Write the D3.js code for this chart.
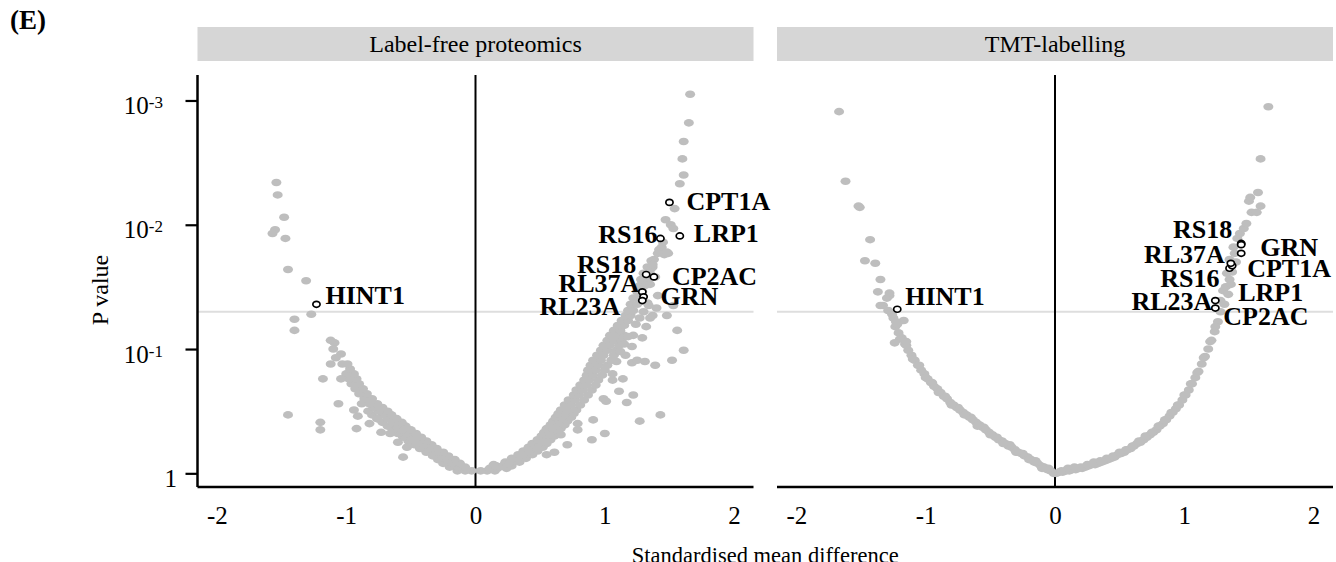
<!DOCTYPE html>
<html>
<head>
<meta charset="utf-8">
<script src="https://cdn.jsdelivr.net/npm/d3@7"></script>
<style>
  html, body { margin: 0; padding: 0; background: #fff; }
  svg { display: block; }
</style>
</head>
<body>
<svg id="chart" width="1336" height="562"></svg>
<script>
// Effect size (standardised mean difference) and -log10(P) per protein.
const labelFreePoints = [
  // negative branch
  [-0.03,0.02],[-0.08,0.02],[-0.14,0.02],[-0.08,0.05],[-0.14,0.05],[-0.20,0.05],[-0.12,0.08],[-0.18,0.08],
  [-0.25,0.08],[-0.16,0.11],[-0.22,0.11],[-0.29,0.11],[-0.21,0.14],[-0.27,0.14],[-0.33,0.14],[-0.25,0.17],
  [-0.31,0.17],[-0.38,0.17],[-0.30,0.20],[-0.36,0.20],[-0.43,0.20],[-0.34,0.23],[-0.40,0.23],[-0.47,0.23],
  [-0.38,0.26],[-0.45,0.26],[-0.52,0.26],[-0.42,0.29],[-0.49,0.29],[-0.56,0.29],[-0.46,0.32],[-0.53,0.32],
  [-0.60,0.32],[-0.50,0.35],[-0.57,0.35],[-0.64,0.35],[-0.54,0.38],[-0.61,0.38],[-0.68,0.38],[-0.57,0.41],
  [-0.64,0.41],[-0.72,0.41],[-0.61,0.44],[-0.68,0.44],[-0.76,0.44],[-0.65,0.47],[-0.72,0.47],[-0.80,0.47],
  [-0.68,0.50],[-0.75,0.50],[-0.83,0.50],[-0.72,0.53],[-0.79,0.53],[-0.76,0.56],[-0.82,0.56],[-0.88,0.56],
  [-0.80,0.60],[-0.86,0.60],[-0.84,0.64],[-0.90,0.64],[-0.87,0.68],[-0.93,0.68],[-0.90,0.72],[-0.96,0.72],
  [-0.92,0.76],[-0.98,0.76],[-0.94,0.80],[-1.00,0.80],[-0.97,0.84],[-0.99,0.88],[-1.03,0.88],
  [-0.92,0.36],[-0.91,0.46],[-0.94,0.51],[-0.82,0.40],[-0.73,0.33],[-0.66,0.32],[-0.60,0.25],[-0.56,0.13],
  [-0.53,0.21],[-0.76,0.44],[-1.04,0.76],[-1.04,0.96],[-1.06,0.56],[-1.08,0.93],[-1.09,1.05],[-1.10,1.00],
  [-1.12,1.07],[-1.12,0.88],[-1.18,0.76],[-1.20,0.41],[-1.20,0.35],[-1.45,0.47],[-1.27,1.28],[-1.40,1.24],
  [-1.40,1.15],[-1.31,1.55],[-1.45,1.64],[-1.47,1.89],[-1.55,1.96],[-1.57,1.93],[-1.48,2.06],[-1.53,2.24],
  [-1.54,2.34],
  // positive branch
  [0.04,0.02],[0.09,0.02],[0.15,0.02],[0.11,0.04],[0.17,0.04],[0.24,0.04],[0.16,0.06],[0.21,0.06],
  [0.28,0.06],[0.23,0.09],[0.28,0.09],[0.34,0.09],[0.28,0.12],[0.33,0.12],[0.39,0.12],[0.33,0.15],
  [0.38,0.15],[0.44,0.15],[0.37,0.18],[0.42,0.18],[0.48,0.18],[0.41,0.21],[0.46,0.21],[0.52,0.21],
  [0.44,0.24],[0.49,0.24],[0.55,0.24],[0.48,0.27],[0.53,0.27],[0.58,0.27],[0.51,0.30],[0.55,0.30],
  [0.61,0.30],[0.53,0.33],[0.58,0.33],[0.64,0.33],[0.55,0.36],[0.60,0.36],[0.66,0.36],[0.58,0.39],
  [0.62,0.39],[0.69,0.39],[0.60,0.42],[0.65,0.42],[0.71,0.42],[0.62,0.45],[0.67,0.45],[0.74,0.45],
  [0.64,0.48],[0.69,0.48],[0.76,0.48],[0.66,0.51],[0.71,0.51],[0.78,0.51],[0.69,0.55],[0.74,0.55],
  [0.81,0.55],[0.72,0.59],[0.77,0.59],[0.84,0.59],[0.76,0.63],[0.80,0.63],[0.87,0.63],[0.78,0.67],
  [0.83,0.67],[0.90,0.67],[0.81,0.71],[0.86,0.71],[0.93,0.71],[0.84,0.75],[0.88,0.75],[0.95,0.75],
  [0.86,0.79],[0.91,0.79],[0.98,0.79],[0.87,0.83],[0.93,0.83],[1.00,0.83],[0.89,0.87],[0.95,0.87],
  [1.02,0.87],[0.91,0.91],[0.97,0.91],[1.05,0.91],[0.94,0.95],[0.99,0.95],[1.07,0.95],[0.97,0.99],
  [1.02,0.99],[1.09,0.99],[0.99,1.03],[1.04,1.03],[1.11,1.03],[1.02,1.07],[1.07,1.07],[1.13,1.07],
  [1.04,1.11],[1.09,1.11],[1.15,1.11],[1.07,1.15],[1.12,1.15],[1.10,1.19],[1.15,1.19],[1.13,1.23],
  [1.18,1.23],[1.16,1.27],[1.20,1.27],[1.18,1.31],[1.22,1.31],[1.20,1.36],[1.25,1.36],[1.22,1.41],
  [1.27,1.41],[1.25,1.46],[1.29,1.46],[1.27,1.51],[1.31,1.51],[1.28,1.56],[1.33,1.56],[1.30,1.61],
  [1.35,1.61],[1.33,1.66],[1.37,1.66],[1.36,1.71],
  [0.14,0.07],[0.26,0.08],[0.48,0.20],[0.54,0.25],[0.55,0.15],[0.61,0.17],[0.71,0.23],[0.66,0.31],
  [0.79,0.40],[0.79,0.35],[0.90,0.27],[0.91,0.43],[1.00,0.32],[0.99,0.60],[1.01,0.58],[1.06,0.75],
  [1.06,0.80],[1.11,0.66],[1.14,0.76],[1.17,0.57],[1.22,0.63],[1.27,0.42],[1.43,0.47],[1.16,0.95],
  [1.21,0.89],[1.25,0.91],[1.31,0.90],[1.39,0.87],[1.52,0.91],[1.61,0.99],[1.56,1.15],[1.21,1.02],
  [1.22,1.11],[1.29,1.09],[1.35,1.25],[1.32,1.18],[1.37,1.27],[1.40,1.33],[1.33,1.37],[1.41,1.43],
  [1.53,1.35],[1.48,1.27],[1.15,1.04],[1.12,0.98],[1.09,0.90],[1.18,1.10],[1.24,1.20],[1.27,1.25],
  [1.30,1.30],[1.34,1.35],[1.28,1.40],[1.35,1.52],[1.39,1.58],[1.38,1.72],[1.36,1.65],
  [1.37,1.68],[1.46,1.76],[1.49,1.77],[1.42,1.80],[1.44,1.82],[1.48,1.78],[1.41,1.77],[1.45,1.86],
  [1.47,2.04],[1.51,2.00],[1.53,1.97],[1.54,2.13],[1.58,2.33],[1.61,2.40],[1.60,2.53],[1.61,2.67],
  [1.65,2.82],[1.66,3.05]
];

const tmtPoints = [
  // negative branch
  [-0.01,0.00],[-0.035,0.02],[-0.06,0.03],[-0.085,0.05],[-0.11,0.06],[-0.135,0.08],[-0.16,0.09],[-0.185,0.11],
  [-0.21,0.13],[-0.235,0.14],[-0.26,0.16],[-0.285,0.17],[-0.31,0.19],[-0.335,0.21],[-0.36,0.22],[-0.385,0.24],
  [-0.41,0.26],[-0.435,0.27],[-0.46,0.29],[-0.485,0.31],[-0.51,0.33],[-0.535,0.35],[-0.56,0.37],[-0.585,0.39],
  [-0.61,0.41],[-0.635,0.43],[-0.66,0.45],[-0.685,0.47],[-0.71,0.49],[-0.735,0.51],[-0.76,0.53],[-0.785,0.55],
  [-0.81,0.57],[-0.835,0.60],[-0.86,0.62],[-0.885,0.65],[-0.91,0.68],[-0.935,0.70],[-0.96,0.73],[-0.985,0.76],
  [-1.01,0.80],[-1.035,0.83],[-1.06,0.87],[-1.085,0.91],[-1.11,0.95],[-1.135,0.99],[-1.16,1.04],[-1.185,1.09],
  [-1.21,1.13],[-1.235,1.18],
  [-0.05,0.04],[-0.10,0.04],[-0.15,0.10],[-0.20,0.11],[-0.25,0.16],[-0.30,0.17],[-0.35,0.23],[-0.40,0.24],
  [-0.45,0.29],[-0.50,0.31],[-0.55,0.37],[-0.60,0.38],[-0.65,0.45],[-0.70,0.47],[-0.75,0.53],[-0.80,0.55],
  [-0.85,0.62],[-0.90,0.65],[-0.95,0.73],[-1.00,0.77],[-1.05,0.87],[-1.10,0.92],[-1.15,1.03],[-1.20,1.08],
  [-1.24,1.05],[-1.17,1.23],[-1.25,1.25],[-1.26,1.28],[-1.29,1.31],[-1.33,1.35],[-1.35,1.35],[-1.30,1.41],
  [-1.28,1.43],[-1.37,1.46],[-1.28,1.45],[-1.35,1.56],[-1.39,1.69],[-1.47,1.71],[-1.43,1.88],[-1.51,2.14],
  [-1.52,2.15],[-1.62,2.35],[-1.67,2.91],[-1.22,1.20],[-1.15,1.06],[-1.23,1.22],
  // positive branch
  [0.01,0.00],[0.035,0.01],[0.06,0.01],[0.085,0.02],[0.11,0.02],[0.135,0.03],[0.16,0.03],[0.185,0.04],
  [0.21,0.04],[0.235,0.05],[0.26,0.06],[0.285,0.07],[0.31,0.07],[0.335,0.08],[0.36,0.09],[0.385,0.10],
  [0.41,0.11],[0.435,0.12],[0.46,0.13],[0.485,0.15],[0.51,0.16],[0.535,0.17],[0.56,0.19],[0.585,0.20],
  [0.61,0.22],[0.635,0.24],[0.66,0.25],[0.685,0.27],[0.71,0.29],[0.735,0.31],[0.76,0.33],[0.785,0.35],
  [0.81,0.38],[0.835,0.40],[0.86,0.43],[0.885,0.46],[0.91,0.49],[0.935,0.52],[0.96,0.55],[0.985,0.59],
  [1.01,0.63],[1.035,0.67],[1.06,0.72],[1.085,0.77],[1.11,0.82],[1.135,0.88],[1.16,0.94],[1.185,1.00],
  [1.21,1.07],[1.235,1.14],[1.26,1.22],[1.28,1.30],
  [0.05,0.02],[0.10,0.04],[0.15,0.05],[0.20,0.05],[0.25,0.07],[0.30,0.09],[0.35,0.10],[0.40,0.12],
  [0.45,0.14],[0.50,0.17],[0.55,0.19],[0.60,0.22],[0.65,0.26],[0.70,0.30],[0.75,0.33],[0.80,0.38],
  [0.85,0.43],[0.90,0.49],[0.95,0.55],[1.00,0.63],[1.05,0.72],[1.10,0.81],[1.15,0.93],[1.20,1.06],
  [1.24,1.18],
  [1.28,1.39],[1.30,1.47],[1.31,1.36],[1.32,1.50],[1.34,1.44],[1.36,1.52],[1.35,1.56],[1.33,1.61],
  [1.37,1.62],[1.35,1.72],[1.40,1.70],[1.39,1.77],[1.38,1.82],[1.41,1.89],[1.43,1.93],[1.46,1.97],
  [1.48,2.01],[1.52,2.10],[1.56,2.10],[1.59,2.15],[1.50,2.19],[1.51,2.22],[1.57,2.26],[1.59,2.53],
  [1.65,2.95]
];

// Highlighted proteins and their values in each data set.
const highlightGenes = ["CPT1A","RS16","LRP1","RS18","CP2AC","RL37A","GRN","RL23A","HINT1"];
const labelFreeHighlightEffect = [1.50, 1.43, 1.58, 1.32, 1.38, 1.29, 1.30, 1.29, -1.23];
const labelFreeHighlightNegLogP = [2.18, 1.89, 1.91, 1.60, 1.58, 1.46, 1.42, 1.39, 1.36];
const tmtHighlightEffect = [1.44, 1.35, 1.37, 1.44, 1.24, 1.36, 1.44, 1.24, -1.22];
const tmtHighlightNegLogP = [1.77, 1.65, 1.67, 1.85, 1.33, 1.69, 1.84, 1.39, 1.32];

const panelTitles = ["Label-free proteomics", "TMT-labelling"];
const xTickValues = [-2, -1, 0, 1, 2];
const yTickExponents = [0, 1, 2, 3];   // P = 10^-k
const significanceP = 0.05;

// Label placement relative to each highlighted point (pixels; anchor side).
const labelLayout = [
  { CPT1A:[17,-1,"start"], RS16:[-3,-5,"end"], LRP1:[14,-3,"start"], RS18:[-10,-11,"end"],
    CP2AC:[18,-1,"start"], RL37A:[-3,-9,"end"], GRN:[17,-1,"start"], RL23A:[-22,5,"end"],
    HINT1:[9,-9,"start"] },
  { CPT1A:[6,15,"start"], RS16:[-10,10,"end"], LRP1:[6,26,"start"], RS18:[-9,-15,"end"],
    CP2AC:[8,8,"start"], RL37A:[-6,-9,"end"], GRN:[19,2,"start"], RL23A:[-3,0,"end"],
    HINT1:[8,-13,"start"] }
];

const svg = d3.select("#chart");
const serif = "'Liberation Serif', 'Times New Roman', serif";

const panelTop = 75, panelBottom = 487;
const panelWidth = 556, panelLefts = [197.5, 777];
const stripTop = 27, stripBottom = 61;

const y = d3.scaleLinear().domain([-0.11, 3.205]).range([panelBottom, panelTop]);

const panelsData = [
  { points: labelFreePoints, hlx: labelFreeHighlightEffect, hly: labelFreeHighlightNegLogP },
  { points: tmtPoints, hlx: tmtHighlightEffect, hly: tmtHighlightNegLogP }
];

panelsData.forEach((pd, i) => {
  const left = panelLefts[i];
  const x = d3.scaleLinear().domain([-2.15, 2.15]).range([left, left + panelWidth]);
  const g = svg.append("g");

  // strip
  g.append("rect")
    .attr("x", left).attr("y", stripTop)
    .attr("width", panelWidth).attr("height", stripBottom - stripTop)
    .attr("fill", "#d6d6d6");
  g.append("text")
    .attr("x", left + panelWidth / 2).attr("y", (stripTop + stripBottom) / 2)
    .attr("dy", "0.35em").attr("text-anchor", "middle")
    .attr("font-family", serif).attr("font-size", 24)
    .text(panelTitles[i]);

  // significance threshold
  g.append("line")
    .attr("x1", left).attr("x2", left + panelWidth)
    .attr("y1", y(-Math.log10(significanceP))).attr("y2", y(-Math.log10(significanceP)))
    .attr("stroke", "#dedede").attr("stroke-width", 2);

  // zero effect line
  g.append("line")
    .attr("x1", x(0)).attr("x2", x(0))
    .attr("y1", panelTop).attr("y2", panelBottom)
    .attr("stroke", "#000").attr("stroke-width", 2);

  // all proteins
  g.append("g").selectAll("ellipse").data(pd.points).join("ellipse")
    .attr("cx", d => x(d[0])).attr("cy", d => y(d[1]))
    .attr("rx", 5).attr("ry", 3.8)
    .attr("fill", "#bebebe");

  // highlighted proteins
  const hl = highlightGenes.map((gname, k) => ({ gene: gname, ex: pd.hlx[k], ny: pd.hly[k] }));
  g.append("g").selectAll("ellipse").data(hl).join("ellipse")
    .attr("cx", d => x(d.ex)).attr("cy", d => y(d.ny))
    .attr("rx", 3.6).attr("ry", 3)
    .attr("fill", "#fff").attr("stroke", "#000").attr("stroke-width", 1.7);

  g.append("g").selectAll("text").data(hl).join("text")
    .attr("x", d => x(d.ex) + labelLayout[i][d.gene][0])
    .attr("y", d => y(d.ny) + labelLayout[i][d.gene][1])
    .attr("dy", "0.35em")
    .attr("text-anchor", d => labelLayout[i][d.gene][2])
    .attr("font-family", serif).attr("font-weight", "bold").attr("font-size", 26)
    .text(d => d.gene);

  // x axis
  const xAxis = g.append("g")
    .attr("transform", `translate(0,${panelBottom})`)
    .call(d3.axisBottom(x).tickValues(xTickValues).tickSize(0).tickPadding(19)
      .tickFormat(d => String(d)));
  xAxis.select(".domain").attr("stroke", "#000").attr("stroke-width", 2.5)
    .attr("d", `M${left},0H${left + panelWidth}`);
  xAxis.selectAll("text").attr("font-family", serif).attr("font-size", 25).attr("fill", "#000");

  // y axis on first panel only
  if (i === 0) {
    const yAxis = g.append("g")
      .attr("transform", `translate(${left},0)`)
      .call(d3.axisLeft(y).tickValues(yTickExponents).tickSize(12).tickPadding(22.5).tickFormat(""));
    yAxis.select(".domain").attr("stroke", "#000").attr("stroke-width", 2.5)
      .attr("d", `M0,${panelTop}V${panelBottom}`);
    yAxis.selectAll(".tick line").attr("stroke", "#000").attr("stroke-width", 2.2);
    yAxis.selectAll(".tick text").each(function(k) {
      const t = d3.select(this)
        .attr("font-family", serif).attr("font-size", 25).attr("fill", "#000")
        .attr("dy", "13px");
      if (k === 0) { t.attr("x", -20.5).text("1"); return; }
      t.text("10");
      t.append("tspan").attr("font-size", 17).attr("dy", "-6px").text("-" + k);
    });
  }
});

// axis titles
svg.append("text")
  .attr("x", (panelLefts[0] + panelLefts[1] + panelWidth) / 2).attr("y", 563)
  .attr("text-anchor", "middle").attr("font-family", serif).attr("font-size", 22.5)
  .text("Standardised mean difference");

svg.append("text")
  .attr("transform", `translate(108,290) rotate(-90)`)
  .attr("text-anchor", "middle").attr("font-family", serif).attr("font-size", 24)
  .text("P value");

svg.append("text")
  .attr("x", 10).attr("y", 29)
  .attr("font-family", serif).attr("font-weight", "bold").attr("font-size", 27)
  .text("(E)");
</script>
</body>
</html>
